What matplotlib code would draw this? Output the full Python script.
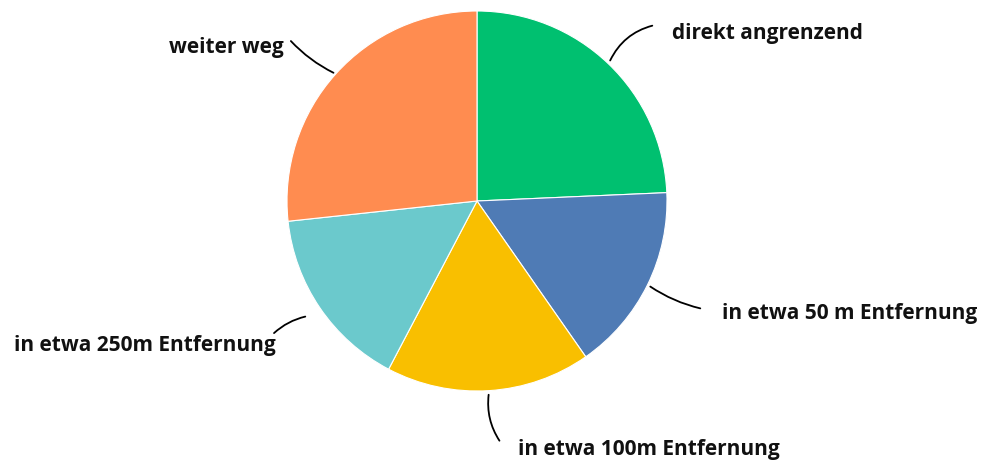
import matplotlib.pyplot as plt

# slice shares in percent, clockwise from 12 o'clock
labels = ['direkt angrenzend', 'in etwa 50 m Entfernung', 'in etwa 100m Entfernung',
          'in etwa 250m Entfernung', 'weiter weg']
values = [24.3, 16.0, 17.4, 15.6, 26.7]
colors = ['#00c070', '#4f7bb5', '#f9bf00', '#6bc9cc', '#ff8c50']

W, H = 983, 467
fig = plt.figure(figsize=(W / 100, H / 100), dpi=100)
ax = fig.add_axes([0, 0, 1, 1])

cx, cy, r = 477, H - 201, 190
wedges, _ = ax.pie(values, colors=colors, startangle=90, counterclock=False,
                   center=(cx, cy), radius=r, frame=True,
                   wedgeprops=dict(edgecolor='white', linewidth=0.8))
ax.set_xlim(0, W)
ax.set_ylim(0, H)
ax.set_aspect('equal')
ax.axis('off')

# (line start on pie, line end, text pos, alignment, curvature)
ann = [
    ((609, 63), (655, 25), (672, 33), 'left', -0.25),
    ((648, 285), (703, 309), (722, 314), 'left', 0.1),
    ((489, 392), (501, 443), (518, 450), 'left', 0.2),
    ((308, 316), (272, 335), (276, 346), 'right', 0.15),
    ((336, 74), (289, 39), (284, 47), 'right', -0.1),
]
for lab, (p0, p1, pt, ha, rad) in zip(labels, ann):
    ax.annotate('', xy=(p1[0], H - p1[1]), xytext=(p0[0], H - p0[1]),
                arrowprops=dict(arrowstyle='-', color='black', lw=1.3,
                                connectionstyle=f'arc3,rad={rad}'))
    ax.text(pt[0], H - pt[1], lab, ha=ha, va='center', fontsize=15,
            fontweight='bold', family='Open Sans', color='#111111')

fig.savefig('out.png', dpi=100)
